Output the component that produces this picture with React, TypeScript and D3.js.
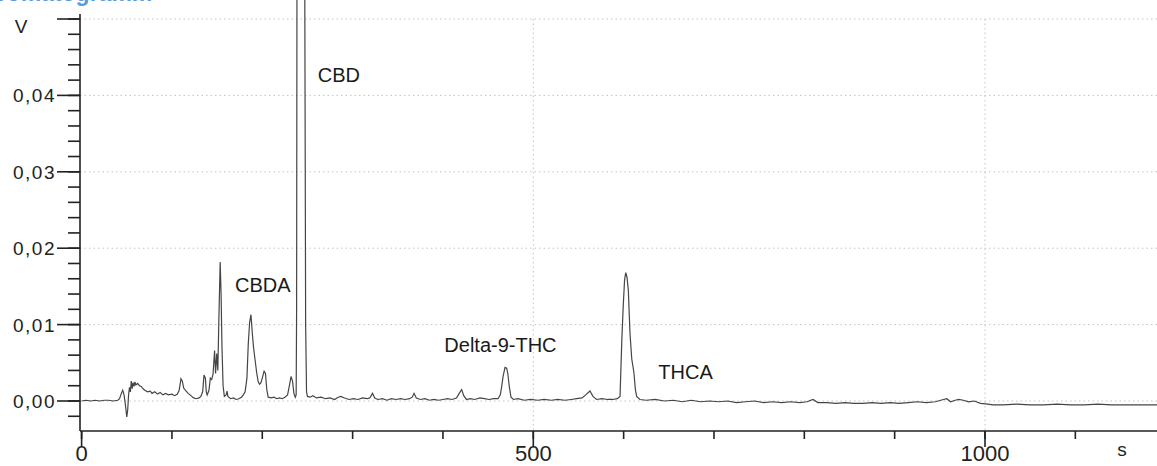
import * as d3 from "d3";

const W = 1157;
const H = 466;

// detector trace: [retention time (s), signal (V)]
const trace: [number, number][] = [
  [0, 0.0], [5, 0.0001], [10, 0.0], [15, 0.0001], [20, 0.0], [25, 0.0001],
  [30, 0.0001], [35, 0.0], [40, 0.0001], [42, 0.0003], [44, 0.001], [45.5, 0.0014],
  [47, 0.0008], [48.5, -0.0005], [50, -0.0021], [51, -0.0012], [52, 0.0008],
  [53, 0.0018], [54, 0.0012], [55, 0.0026], [56, 0.0016], [57, 0.0024], [58, 0.0019],
  [59, 0.0025], [60, 0.0021], [62, 0.0023], [64, 0.002], [66, 0.0019], [68, 0.0016],
  [70, 0.0014], [73, 0.0012], [76, 0.0013], [78, 0.001], [81, 0.0012], [84, 0.0009],
  [87, 0.0011], [90, 0.0008], [93, 0.001], [96, 0.0008], [100, 0.0009], [103, 0.0007],
  [106, 0.0009], [108, 0.0014], [110, 0.0029], [111.5, 0.0026], [113, 0.0017],
  [115, 0.0014], [118, 0.001], [121, 0.0007], [124, 0.0004], [127, 0.0003],
  [130, 0.0004], [132, 0.0006], [134, 0.0012], [135.5, 0.0034], [137, 0.003],
  [138, 0.0012], [139, 0.0008], [141, 0.0014], [142.5, 0.003], [144, 0.0028],
  [145.5, 0.0035], [147.2, 0.0066], [148.3, 0.0036], [149.6, 0.0062], [150.8, 0.004],
  [152, 0.011], [153.4, 0.0182], [154.4, 0.014], [155.4, 0.007], [156.6, 0.002],
  [158, 0.0006], [160, 0.0008], [161, 0.0013], [162, 0.0006], [165, 0.0003],
  [168, 0.0004], [171, 0.0002], [174, 0.0003], [177, 0.0005], [179, 0.0008],
  [181, 0.0012], [183, 0.003], [184.5, 0.0075], [186, 0.0103], [187.5, 0.0113],
  [189, 0.0088], [190.5, 0.0068], [192, 0.0054], [193.8, 0.0037], [195.5, 0.0025],
  [197, 0.0022], [198.5, 0.0024], [200, 0.003], [202, 0.0039], [203.5, 0.0036],
  [205, 0.0015], [206.5, 0.0005], [210, 0.0004], [213, 0.0005], [216, 0.0003],
  [219, 0.0004], [222, 0.0003], [225, 0.0005], [228, 0.0008], [230, 0.002],
  [231.8, 0.0032], [233.5, 0.0026], [235, 0.001], [236.5, 0.0005], [237.5, 0.0008],
  [238, 0.012], [238.4, 0.055], [242.5, 0.3], [247, 0.056], [248, 0.01], [249, 0.0012],
  [250, 0.0006], [253, 0.0005], [256, 0.0007], [260, 0.0004], [265, 0.0005],
  [270, 0.0003], [275, 0.0004], [280, 0.0002], [284, 0.0005], [287, 0.0006],
  [291, 0.0004], [296, 0.0002], [301, 0.0003], [306, 0.0002], [311, 0.0004],
  [316, 0.0003], [319, 0.0004], [322, 0.001], [324.5, 0.0004], [328, 0.0002],
  [333, 0.0003], [338, 0.0001], [343, 0.0003], [348, 0.0002], [353, 0.0003],
  [358, 0.0002], [363, 0.0003], [366, 0.0005], [368, 0.001], [370.5, 0.0004],
  [375, 0.0002], [380, 0.0003], [385, 0.0001], [390, 0.0002], [395, 0.0001],
  [400, 0.0002], [405, 0.0003], [410, 0.0002], [415, 0.0004], [418, 0.001],
  [420.7, 0.0015], [423, 0.0007], [426, 0.0002], [430, 0.0003], [435, 0.0002],
  [441, 0.0004], [446, 0.0003], [451, 0.0002], [456, 0.0003], [461, 0.0003],
  [463.5, 0.0008], [465, 0.0019], [466.5, 0.0032], [468.7, 0.0044], [470.5, 0.0043],
  [471.8, 0.0036], [473.4, 0.0019], [475.3, 0.0005], [478, 0.0002], [483, 0.0003],
  [490, 0.0001], [497, 0.0002], [505, 0.0001], [512, 0.0002], [520, 0.0001],
  [527, 0.0002], [535, 0.0001], [542, 0.0002], [548, 0.0003], [554, 0.0004],
  [558, 0.0008], [562.7, 0.0013], [566, 0.0006], [570, 0.0002], [576, 0.0003],
  [582, 0.0002], [588, 0.0002], [593, 0.0003], [596, 0.0006], [598, 0.008],
  [599.5, 0.0123], [601, 0.0158], [602.3, 0.0168], [603.7, 0.0162], [605.2, 0.0145],
  [607, 0.0089], [609, 0.0055], [611.4, 0.0037], [613, 0.0015], [614.4, 0.0006],
  [618, 0.0002], [625, 0.0001], [635, 0.0002], [645, 0.0], [655, 0.0001],
  [665, -0.0001], [675, 0.0001], [685, -0.0001], [695, 0.0], [705, -0.0001],
  [715, 0.0], [725, -0.0002], [735, -0.0001], [745, 0.0], [755, -0.0002],
  [765, -0.0001], [775, -0.0002], [785, -0.0001], [795, -0.0002], [803, -0.0001],
  [809.6, 0.0002], [815, -0.0002], [825, -0.0002], [835, -0.0003], [845, -0.0002],
  [855, -0.0003], [865, -0.0003], [875, -0.0002], [885, -0.0003], [895, -0.0002],
  [905, -0.0003], [915, -0.0002], [925, -0.0001], [935, -0.0002], [945, -0.0001],
  [951, 0.0001], [957.6, 0.0003], [962, -0.0001], [967, 0.0001], [971, 0.0002],
  [976, 0.0001], [982, -0.0001], [988, 0.0], [995, -0.0003], [1003, -0.0004],
  [1009, -0.0005], [1020, -0.0005], [1035, -0.0004], [1050, -0.0005], [1065, -0.0005],
  [1080, -0.0004], [1095, -0.0005], [1110, -0.0005], [1125, -0.0004], [1140, -0.0005],
  [1160, -0.0005], [1180, -0.0005], [1195, -0.0005],
];

// peak annotations: text starts at (time, volts)
const peakLabels = [
  { name: "CBD", time: 261.5, volts: 0.0418 },
  { name: "CBDA", time: 169.8, volts: 0.0143 },
  { name: "Delta-9-THC", time: 401.5, volts: 0.00645 },
  { name: "THCA", time: 638.4, volts: 0.00284 },
];

const yLabelled = [0, 0.01, 0.02, 0.03, 0.04];
const yMajor = [0, 0.01, 0.02, 0.03, 0.04, 0.05];
const yMinor = d3.range(-0.002, 0.0501, 0.002);
const xLabelled = [0, 500, 1000];
const xMinor = d3.range(0, 1101, 100);
const xGrid = [500, 1000];

const fmt = d3.formatLocale({
  decimal: ",",
  thousands: ".",
  grouping: [3],
  currency: ["", " €"],
}).format(".2f");

const font = '"Liberation Sans", Arial, sans-serif';

export default function App() {
  const x = d3.scaleLinear().domain([0, 1000]).range([81.6, 985]);
  const y = d3.scaleLinear().domain([0, 0.05]).range([401, 19]);

  const axisX = 80;
  const axisY = 431;

  const line = d3
    .line<[number, number]>()
    .x((d) => x(d[0]))
    .y((d) => y(d[1]));

  return (
    <svg
      width={W}
      height={H}
      style={{ position: "absolute", left: 0, top: 0, background: "#fff" }}
    >
      {/* title, mostly cut off by the scan */}
      <text x={-33} y={1} fontFamily={font} fontWeight="bold" fontSize={23} fill="#5b9bdb">
        Chromatogramm
      </text>

      {/* dotted grid */}
      <g stroke="#c4c4c4" strokeWidth={1} strokeDasharray="1.5 3">
        {yMajor.map((v) => (
          <line key={"gy" + v} x1={axisX} x2={W} y1={y(v)} y2={y(v)} />
        ))}
        {xGrid.map((t) => (
          <line key={"gx" + t} x1={x(t)} x2={x(t)} y1={y(0.05)} y2={axisY} />
        ))}
      </g>

      {/* signal */}
      <path d={line(trace) ?? ""} fill="none" stroke="#454545" strokeWidth={1.2} />

      {/* y axis */}
      <g stroke="#222" strokeWidth={1.6}>
        <line x1={axisX} x2={axisX} y1={14} y2={axisY} />
        {yMinor.map((v) => (
          <line key={"ym" + v} x1={axisX - 12} x2={axisX} y1={y(v)} y2={y(v)} />
        ))}
        {yMajor.map((v) => (
          <line key={"yM" + v} x1={axisX - 23} x2={axisX} y1={y(v)} y2={y(v)} />
        ))}
      </g>
      {yLabelled.map((v) => (
        <text
          key={"yl" + v}
          x={axisX - 24}
          y={y(v) + 7}
          textAnchor="end"
          fontFamily={font}
          fontSize={19}
          letterSpacing={1.5}
          fill="#222"
        >
          {fmt(v)}
        </text>
      ))}
      <text x={21} y={33} textAnchor="middle" fontFamily={font} fontSize={19} fill="#222">
        V
      </text>

      {/* x axis */}
      <g stroke="#222" strokeWidth={1.6}>
        <line x1={axisX} x2={W} y1={axisY} y2={axisY} />
        {xMinor.map((t) => (
          <line key={"xm" + t} x1={x(t)} x2={x(t)} y1={axisY} y2={axisY + 8} />
        ))}
        {xLabelled.map((t) => (
          <line key={"xM" + t} x1={x(t)} x2={x(t)} y1={axisY} y2={axisY + 16} />
        ))}
      </g>
      {xLabelled.map((t) => (
        <text
          key={"xl" + t}
          x={x(t)}
          y={461}
          textAnchor="middle"
          fontFamily={font}
          fontSize={22}
          fill="#222"
        >
          {t}
        </text>
      ))}
      <text x={1122} y={456} textAnchor="middle" fontFamily={font} fontSize={19} fill="#222">
        s
      </text>

      {/* peak names */}
      {peakLabels.map((p) => (
        <text
          key={p.name}
          x={x(p.time)}
          y={y(p.volts)}
          fontFamily={font}
          fontSize={20}
          fill="#1a1a1a"
        >
          {p.name}
        </text>
      ))}
    </svg>
  );
}
